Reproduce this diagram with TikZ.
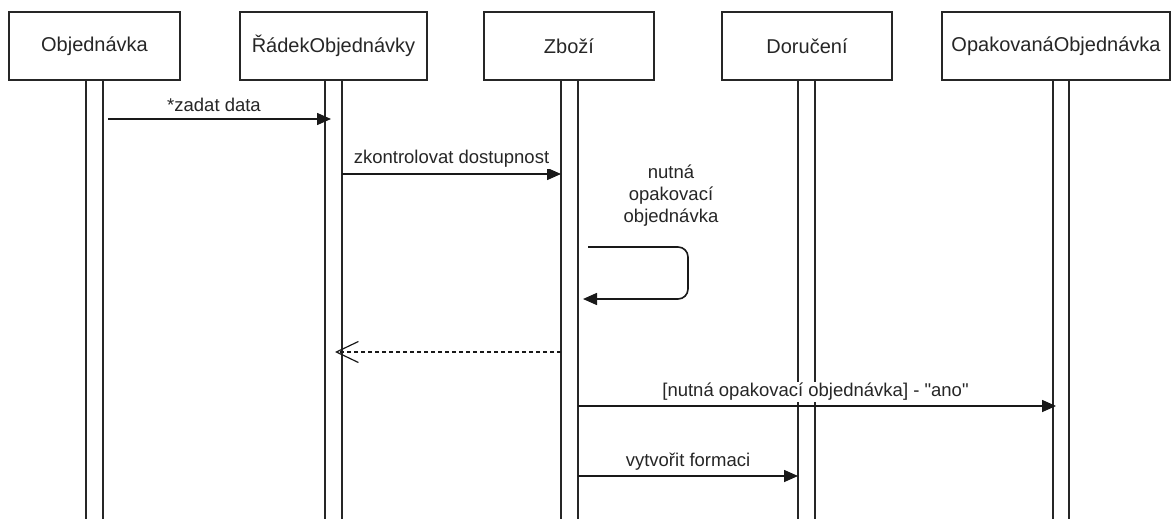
\documentclass[tikz,border=0pt]{standalone}
\usepackage{fontspec}
\setmainfont[Ligatures=TeXOff]{Liberation Sans}
\usetikzlibrary{arrows.meta}
\begin{document}
\begin{tikzpicture}[x=1pt,y=-1pt,
  lifebox/.style={draw=black!85, line width=1.6pt, minimum width=#1, minimum height=68pt, inner sep=0pt, outer sep=0pt, font=\fontsize{20}{24}\selectfont, text=black!85},
  actbar/.style={draw=black!85, fill=white, line width=1.6pt, minimum width=#1, minimum height=470pt, anchor=north, inner sep=0pt, outer sep=0pt},
  msg/.style={line width=1.6pt, draw=black!90, -{Triangle[length=14pt,width=12pt]}},
  ret/.style={line width=1.2pt, draw=black!90, dash pattern=on 4pt off 3pt, -{Straight Barb[length=22pt,width=21pt]}},
  lbl/.style={font=\fontsize{18.5}{22}\selectfont, text=black!85, fill=white, inner sep=1pt}
]
\useasboundingbox (0,0) rectangle (1171,519);
% activation bars
\node[actbar=17pt] (b1) at (94.5,80) {};
\node[actbar=17pt] (b2) at (333.5,80) {};
\node[actbar=17pt] (b3) at (569.5,80) {};
\node[actbar=17pt] (b4) at (806.5,80) {};
\node[actbar=16pt] (b5) at (1061,80) {};
% lifeline heads
\node[lifebox=171pt] (l1) at (94.5,46) {Objednávka};
\node[lifebox=187pt] (l2) at (333.5,46) {ŘádekObjednávky};
\node[lifebox=170pt] (l3) at (569,46) {Zboží};
\node[lifebox=170pt] (l4) at (807,46) {Doručení};
\node[lifebox=228pt] (l5) at (1056,46) {OpakovanáObjednávka};
% messages
\draw[msg, shorten <=5pt, shorten >=-6pt] (b1.east |- 0,119) -- (b2.west |- 0,119)
  node[lbl, midway, yshift=14pt] {*zadat data};
\draw[msg] (b2.east |- 0,174) -- (b3.west |- 0,174)
  node[lbl, midway, yshift=15pt] {zkontrolovat dostupnost};
\draw[msg, rounded corners=10pt, shorten <=10pt, shorten >=5pt] (b3.east |- 0,247) -- ++(110,0) -- ++(0,52) -- (b3.east |- 0,299);
\node[lbl, align=center] (selflbl) at (671,196) {nutná\\opakovací\\objednávka};
\draw[ret, shorten >=-7pt] (b3.west |- 0,352) -- (b2.east |- 0,352);
\draw[msg, shorten >=-3pt] (b3.east |- 0,406) -- (b5.west |- 0,406)
  node[lbl, midway, yshift=14pt] {[nutná opakovací objednávka] - "ano"};
\draw[msg] (b3.east |- 0,476) -- (b4.west |- 0,476)
  node[lbl, midway, yshift=14pt] {vytvořit formaci};
\end{tikzpicture}
\end{document}
